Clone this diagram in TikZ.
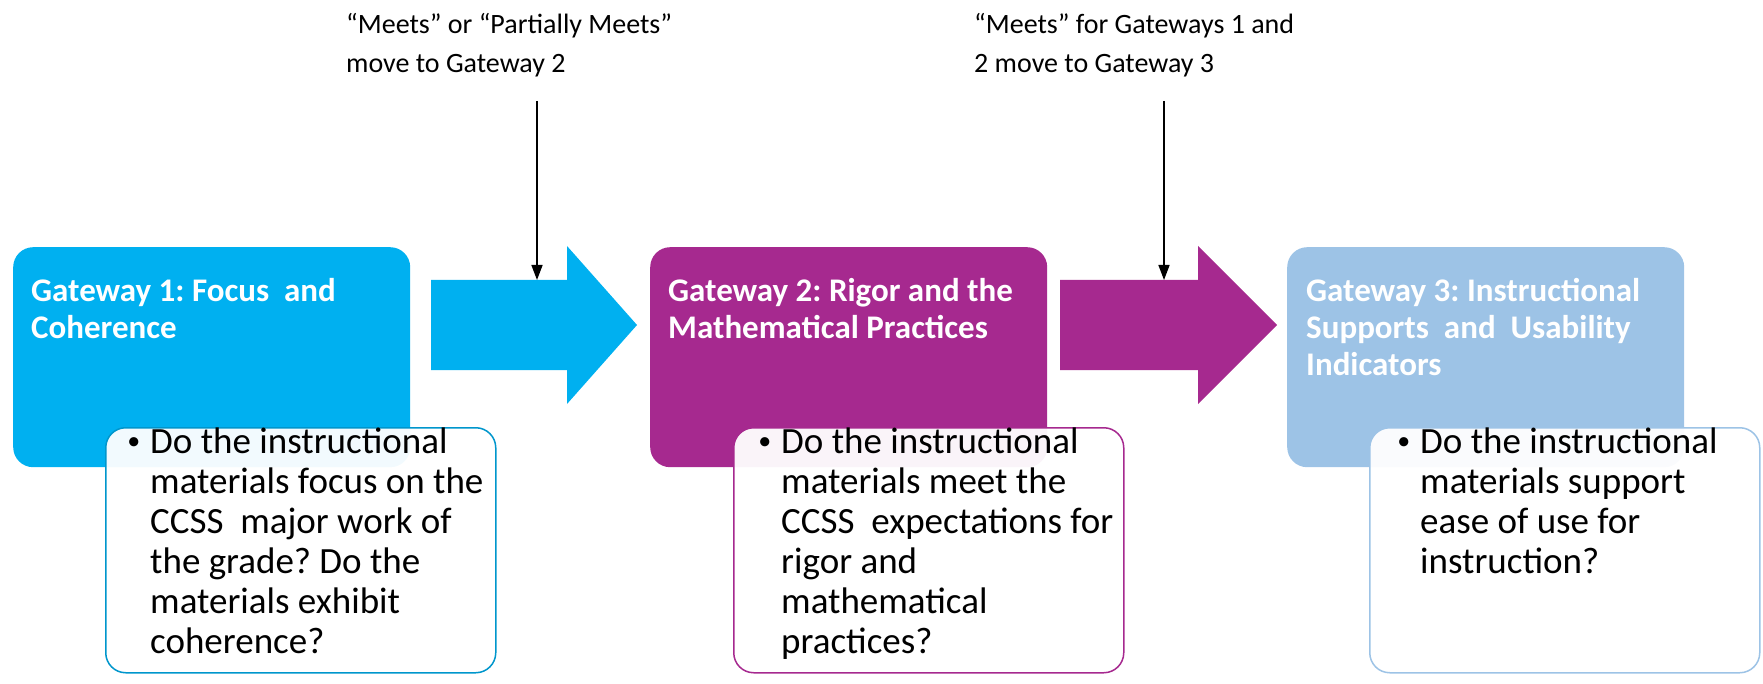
\documentclass[tikz,border=0pt]{standalone}
\usepackage{fontspec}
\setmainfont{Carlito}
\usetikzlibrary{arrows.meta}
\frenchspacing
\definecolor{gblue}{RGB}{0,176,240}
\definecolor{gpurple}{RGB}{166,41,143}
\definecolor{glight}{RGB}{157,195,230}
\tikzset{
 gate/.style={rounded corners=20pt, minimum width=397pt, minimum height=220pt, inner sep=0pt, draw=none, anchor=north west},
 qbox/.style={rounded corners=20pt, minimum width=390pt, minimum height=245pt, fill=white, fill opacity=0.95, text opacity=1, line width=1.5pt, inner sep=0pt, anchor=north west},
 gtitle/.style={anchor=base west, align=left, text=white, font=\fontsize{33}{37}\selectfont\bfseries, inner sep=0pt},
 qtext/.style={anchor=base west, align=left, font=\fontsize{37}{40}\selectfont, inner sep=0pt},
 toplab/.style={anchor=base west, align=left, font=\fontsize{28}{39}\selectfont, inner sep=0pt},
 drop/.style={-{Triangle[length=15pt,width=11pt]}, line width=1.5pt},
}
\newcommand{\bul}{\llap{\raisebox{4pt}{\fontsize{26}{26}\selectfont\textbullet}\hspace{10pt}}}
\begin{document}
\begin{tikzpicture}[x=1pt,y=-1pt]
\useasboundingbox (0,0) rectangle (1763,684);
% gateway boxes
\node[gate, fill=gblue] (g1) at (13,247) {};
\node[gate, fill=gpurple] (g2) at (650,247) {};
\node[gate, fill=glight] (g3) at (1287,247) {};
% (anchor = baseline of last line)
\node[gtitle] (g1t) at (31,338) {Gateway 1: Focus \ and\\Coherence};
\node[gtitle] (g2t) at (668,338) {Gateway 2: Rigor and the\\Mathematical Practices};
\node[gtitle] (g3t) at (1306,375) {Gateway 3: Instructional\\Supports \ and \ Usability\\Indicators};
% big arrows
\fill[gblue] (431,280) -- (567,280) -- (567,246) -- (637,325) -- (567,404) -- (567,370) -- (431,370) -- cycle;
\fill[gpurple] (1060,280) -- (1198,280) -- (1198,246) -- (1277,325) -- (1198,404) -- (1198,370) -- (1060,370) -- cycle;
\coordinate (a1) at (537,280);
\coordinate (a2) at (1164,280);
% question boxes
\node[qbox, draw=gblue!85!black] (q1) at (105,427) {};
\node[qbox, draw=gpurple] (q2) at (733,427) {};
\node[qbox, draw=glight] (q3) at (1369,427) {};
\node[qtext] (q1t) at (150,653) {\bul Do the instructional\\materials focus on the\\CCSS \ major work of\\the grade? Do the\\materials exhibit\\coherence?};
\node[qtext] (q2t) at (781,653) {\bul Do the instructional\\materials meet the\\CCSS \ expectations for\\rigor and\\mathematical\\practices?};
\node[qtext] (q3t) at (1420,573) {\bul Do the instructional\\materials support\\ease of use for\\instruction?};
% top labels
\node[toplab] (l1) at (346,73) {“Meets” or “Partially Meets”\\move to Gateway 2};
\node[toplab] (l2) at (974,73) {“Meets” for Gateways 1 and\\2 move to Gateway 3};
\coordinate (s1) at (537,101);
\coordinate (s2) at (1164,101);
\draw[drop] (s1) -- (a1);
\draw[drop] (s2) -- (a2);
\end{tikzpicture}
\end{document}
